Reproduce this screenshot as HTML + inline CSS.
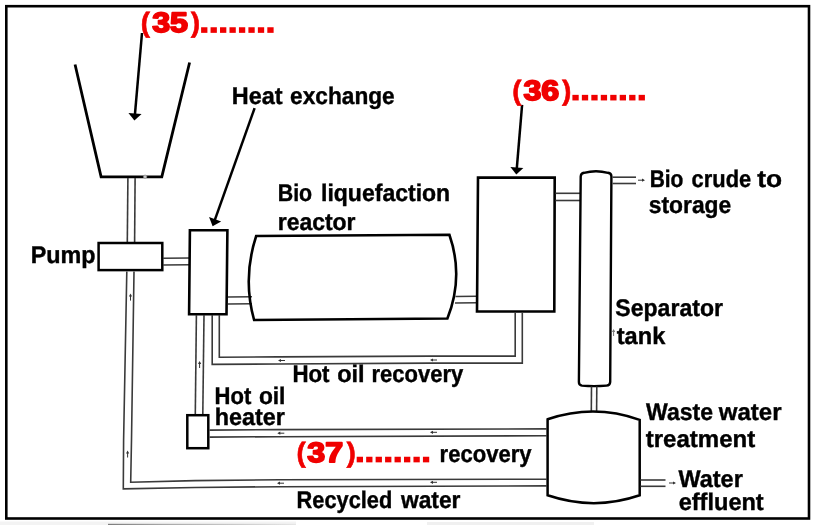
<!DOCTYPE html>
<html><head><meta charset="utf-8"><style>
html,body{margin:0;padding:0;background:#fff;width:816px;height:525px;overflow:hidden}
svg{display:block;filter:blur(0.3px)}
text{font-family:"Liberation Sans",sans-serif;font-weight:bold;text-rendering:geometricPrecision}
</style></head><body>
<svg width="816" height="525" viewBox="0 0 816 525">
<defs><linearGradient id="bg" x1="0" x2="1" y1="0" y2="0"><stop offset="0" stop-color="#7c7c7c"/><stop offset="0.3" stop-color="#a8a8a8"/><stop offset="1" stop-color="#e6e6e6"/></linearGradient></defs><rect x="0" y="521.5" width="296" height="3.5" fill="#f3f3f3"/><rect x="108" y="523.8" width="188" height="1.2" fill="url(#bg)"/><rect x="427" y="522" width="167" height="3" fill="#f0f0f0"/>
<rect x="6.3" y="6.2" width="802.7" height="512.3" fill="none" stroke="#000" stroke-width="2.6"/><polyline points="75.05,64.5 101.1,176.8 161.8,176.8 189.6,62.5" fill="none" stroke="#000" stroke-width="2.8" stroke-linejoin="miter"/><circle cx="145.1" cy="176.7" r="1.7" fill="#c8c8c8" stroke="#888" stroke-width="0.6"/><line x1="142" y1="33" x2="134.92" y2="114.52" stroke="#000" stroke-width="2.5"/><polygon points="134.4,120.5 128.43,112.96 141.58,114.10" fill="#000"/><polyline points="127.9,178 127.3,242.5" fill="none" stroke="#3a3a3a" stroke-width="1.6" stroke-linejoin="miter"/><polyline points="135.1,178 134.6,242.5" fill="none" stroke="#3a3a3a" stroke-width="1.6" stroke-linejoin="miter"/><rect x="98.6" y="243" width="63.7" height="27.1" fill="none" stroke="#000" stroke-width="2.5"/><polyline points="163,258.2 190,258" fill="none" stroke="#3a3a3a" stroke-width="1.6" stroke-linejoin="miter"/><polyline points="163,265 190,264.8" fill="none" stroke="#3a3a3a" stroke-width="1.6" stroke-linejoin="miter"/><polygon points="189.9,230.2 227.4,230.2 226.5,314.3 189.1,314.3" fill="none" stroke="#000" stroke-width="2.6"/><line x1="254.6" y1="108.2" x2="214.78" y2="220.18" stroke="#000" stroke-width="2.5"/><polygon points="212.6,226.3 209.08,217.09 221.14,221.38" fill="#000"/><polyline points="228,297 252,296.8" fill="none" stroke="#3a3a3a" stroke-width="1.6" stroke-linejoin="miter"/><polyline points="228,304 252,303.8" fill="none" stroke="#3a3a3a" stroke-width="1.6" stroke-linejoin="miter"/><path d="M256.2,236 L449.4,234.7 Q464,276.6 447.4,318.5 L254.1,320 Q242.4,278 256.2,236 Z" fill="none" stroke="#000" stroke-width="2.6"/><polyline points="455.5,296.5 477,296.3" fill="none" stroke="#3a3a3a" stroke-width="1.6" stroke-linejoin="miter"/><polyline points="455,303 477,302.8" fill="none" stroke="#3a3a3a" stroke-width="1.6" stroke-linejoin="miter"/><polygon points="478,177.6 554.7,177.6 554.3,311.5 477,311.5" fill="none" stroke="#000" stroke-width="2.6"/><line x1="522.1" y1="104.9" x2="516.8" y2="168.42" stroke="#000" stroke-width="2.5"/><polygon points="516.3,174.4 510.40,166.88 523.36,167.96" fill="#000"/><polyline points="555.5,193.3 580,193.3" fill="none" stroke="#3a3a3a" stroke-width="1.6" stroke-linejoin="miter"/><polyline points="555.5,200.5 580,200.5" fill="none" stroke="#3a3a3a" stroke-width="1.6" stroke-linejoin="miter"/><path d="M578.9,382 L580.7,176.5 Q580.9,173.2 584,172.8 Q596,169.6 608,172.8 Q611.4,173.4 611.4,176.5 L610.2,382 Q610,385.5 606.5,385.6 Q594,386.6 582,385.6 Q578.9,385.2 578.9,382 Z" fill="none" stroke="#000" stroke-width="2.4"/><polyline points="612.5,177.2 636,177.2" fill="none" stroke="#3a3a3a" stroke-width="1.6" stroke-linejoin="miter"/><polyline points="612.5,183.5 636,183.5" fill="none" stroke="#3a3a3a" stroke-width="1.6" stroke-linejoin="miter"/><path d="M638,180.2 L643.5,180.2" stroke="#333" stroke-width="1"/><polygon points="645,180.2 642,178.6 642,181.79999999999998" fill="#333"/><polyline points="591.5,386.5 591.3,411.5" fill="none" stroke="#3a3a3a" stroke-width="1.6" stroke-linejoin="miter"/><polyline points="596.8,386.5 596.6,411.5" fill="none" stroke="#3a3a3a" stroke-width="1.6" stroke-linejoin="miter"/><path d="M547.6,419.3 Q594,403.5 639.7,419.9 L639.7,495.3 Q594,511 547.6,495.3 Z" fill="none" stroke="#000" stroke-width="2.5"/><polyline points="640.5,480 665.5,480" fill="none" stroke="#3a3a3a" stroke-width="1.6" stroke-linejoin="miter"/><polyline points="640.5,486.3 665.5,486.3" fill="none" stroke="#3a3a3a" stroke-width="1.6" stroke-linejoin="miter"/><path d="M669,483 L674.5,483" stroke="#333" stroke-width="1"/><polygon points="676,483 673,481.4 673,484.6" fill="#333"/><polyline points="196.4,315 195.3,414.3" fill="none" stroke="#3a3a3a" stroke-width="1.6" stroke-linejoin="miter"/><polyline points="204,315 202.8,414.3" fill="none" stroke="#3a3a3a" stroke-width="1.6" stroke-linejoin="miter"/><path d="M199.6,368 L199.6,362.5" stroke="#333" stroke-width="1"/><polygon points="199.6,361 198.0,364 201.2,364" fill="#333"/><polyline points="219.3,315 219.3,357.3 278,356.9 430,356.1 515.2,356.1 515.2,312" fill="none" stroke="#3a3a3a" stroke-width="1.6" stroke-linejoin="miter"/><polyline points="212.2,315 212.2,364.4 278,364 430,363.1 522.3,363.1 522.3,312" fill="none" stroke="#3a3a3a" stroke-width="1.6" stroke-linejoin="miter"/><path d="M285,360.5 L279.5,360.5" stroke="#333" stroke-width="1"/><polygon points="278,360.5 281,358.9 281,362.1" fill="#333"/><path d="M437,360 L431.5,360" stroke="#333" stroke-width="1"/><polygon points="430,360 433,358.4 433,361.6" fill="#333"/><rect x="187.3" y="415.2" width="21" height="33" fill="none" stroke="#000" stroke-width="2.5"/><polyline points="209.5,430.1 277,429.6 547,428.9" fill="none" stroke="#3a3a3a" stroke-width="1.6" stroke-linejoin="miter"/><polyline points="209.5,437.1 277,436.7 547,435.7" fill="none" stroke="#3a3a3a" stroke-width="1.6" stroke-linejoin="miter"/><path d="M284.3,433.2 L278.8,433.2" stroke="#333" stroke-width="1"/><polygon points="277.3,433.2 280.3,431.59999999999997 280.3,434.8" fill="#333"/><path d="M437,432.3 L431.5,432.3" stroke="#333" stroke-width="1"/><polygon points="430,432.3 433,430.7 433,433.90000000000003" fill="#333"/><polyline points="134,271.5 131.5,440 130.7,482.3 195,480.6 280,479.8 547,479.2" fill="none" stroke="#3a3a3a" stroke-width="1.6" stroke-linejoin="miter"/><polyline points="126.8,271.5 123.6,440 123.3,488.9 195,487.5 280,486.7 547,485.9" fill="none" stroke="#3a3a3a" stroke-width="1.6" stroke-linejoin="miter"/><path d="M613.6,336 L613.6,330.5" stroke="#777" stroke-width="1"/><polygon points="613.6,329 612.0,332 615.2,332" fill="#777"/><path d="M130.5,300.6 L130.5,295.1" stroke="#333" stroke-width="1"/><polygon points="130.5,293.6 128.9,296.6 132.1,296.6" fill="#333"/><path d="M127.6,457.5 L127.6,452.0" stroke="#333" stroke-width="1"/><polygon points="127.6,450.5 126.0,453.5 129.2,453.5" fill="#333"/><path d="M284,483.2 L278.5,483.2" stroke="#333" stroke-width="1"/><polygon points="277,483.2 280,481.59999999999997 280,484.8" fill="#333"/><path d="M437,482.3 L431.5,482.3" stroke="#333" stroke-width="1"/><polygon points="430,482.3 433,480.7 433,483.90000000000003" fill="#333"/>
<text x="231.71" y="103.8" font-size="24" fill="#000" stroke="#000" stroke-width="0.4" textLength="50.8" lengthAdjust="spacingAndGlyphs" >Heat</text><text x="290.07" y="103.8" font-size="24" fill="#000" stroke="#000" stroke-width="0.4" textLength="104.67" lengthAdjust="spacingAndGlyphs" >exchange</text><text x="277.71" y="200.6" font-size="24" fill="#000" stroke="#000" stroke-width="0.4" textLength="34.43" lengthAdjust="spacingAndGlyphs" >Bio</text><text x="321.04" y="200.6" font-size="24" fill="#000" stroke="#000" stroke-width="0.4" textLength="129.1" lengthAdjust="spacingAndGlyphs" >liquefaction</text><text x="277.76" y="230.4" font-size="24" fill="#000" stroke="#000" stroke-width="0.4" textLength="77.8" lengthAdjust="spacingAndGlyphs" >reactor</text><text x="30.72" y="262.8" font-size="24" fill="#000" stroke="#000" stroke-width="0.4" textLength="64.89" lengthAdjust="spacingAndGlyphs" >Pump</text><text x="292.42" y="382.3" font-size="24" fill="#000" stroke="#000" stroke-width="0.4" textLength="37.12" lengthAdjust="spacingAndGlyphs" >Hot</text><text x="337.16" y="382.3" font-size="24" fill="#000" stroke="#000" stroke-width="0.4" textLength="27.43" lengthAdjust="spacingAndGlyphs" >oil</text><text x="371.52" y="382.3" font-size="24" fill="#000" stroke="#000" stroke-width="0.4" textLength="91.75" lengthAdjust="spacingAndGlyphs" >recovery</text><text x="214.61" y="404.3" font-size="24" fill="#000" stroke="#000" stroke-width="0.4" textLength="36.7" lengthAdjust="spacingAndGlyphs" >Hot</text><text x="258.88" y="404.3" font-size="24" fill="#000" stroke="#000" stroke-width="0.4" textLength="26.57" lengthAdjust="spacingAndGlyphs" >oil</text><text x="214.83" y="425.1" font-size="24" fill="#000" stroke="#000" stroke-width="0.4" textLength="70.13" lengthAdjust="spacingAndGlyphs" >heater</text><text x="615.37" y="316" font-size="24" fill="#000" stroke="#000" stroke-width="0.4" textLength="107.59" lengthAdjust="spacingAndGlyphs" >Separator</text><text x="616.75" y="343.7" font-size="24" fill="#000" stroke="#000" stroke-width="0.4" textLength="48.51" lengthAdjust="spacingAndGlyphs" >tank</text><text x="649.64" y="186.5" font-size="24" fill="#000" stroke="#000" stroke-width="0.4" textLength="33.8" lengthAdjust="spacingAndGlyphs" >Bio</text><text x="691.61" y="186.5" font-size="24" fill="#000" stroke="#000" stroke-width="0.4" textLength="59.6" lengthAdjust="spacingAndGlyphs" >crude</text><text x="757.33" y="186.5" font-size="24" fill="#000" stroke="#000" stroke-width="0.4" textLength="24.85" lengthAdjust="spacingAndGlyphs" >to</text><text x="648.81" y="213" font-size="24" fill="#000" stroke="#000" stroke-width="0.4" textLength="82.43" lengthAdjust="spacingAndGlyphs" >storage</text><text x="646.05" y="419.6" font-size="24" fill="#000" stroke="#000" stroke-width="0.4" textLength="66.97" lengthAdjust="spacingAndGlyphs" >Waste</text><text x="718.84" y="419.6" font-size="24" fill="#000" stroke="#000" stroke-width="0.4" textLength="62.68" lengthAdjust="spacingAndGlyphs" >water</text><text x="645.69" y="447.4" font-size="24" fill="#000" stroke="#000" stroke-width="0.4" textLength="109.5" lengthAdjust="spacingAndGlyphs" >treatment</text><text x="678.45" y="486.5" font-size="24" fill="#000" stroke="#000" stroke-width="0.4" textLength="64.35" lengthAdjust="spacingAndGlyphs" >Water</text><text x="678.69" y="509.5" font-size="24" fill="#000" stroke="#000" stroke-width="0.4" textLength="85.03" lengthAdjust="spacingAndGlyphs" >effluent</text><text x="439.61" y="462.1" font-size="24" fill="#000" stroke="#000" stroke-width="0.4" textLength="92.01" lengthAdjust="spacingAndGlyphs" >recovery</text><text x="296.56" y="508.2" font-size="24" fill="#000" stroke="#000" stroke-width="0.4" textLength="95.76" lengthAdjust="spacingAndGlyphs" >Recycled</text><text x="400.92" y="508.2" font-size="24" fill="#000" stroke="#000" stroke-width="0.4" textLength="59.58" lengthAdjust="spacingAndGlyphs" >water</text><text x="140.87" y="31.87" font-size="28" fill="#f00000" stroke="#f00000" stroke-width="0.6">(</text><text x="152.17" y="32.2" font-size="28" fill="#f00000" stroke="#f00000" stroke-width="1.8" stroke-linejoin="round" textLength="35.8" lengthAdjust="spacingAndGlyphs">35</text><text x="190.85" y="31.87" font-size="28" fill="#f00000" stroke="#f00000" stroke-width="0.6">)</text><rect x="201.10" y="27.25" width="6.3" height="5.6" fill="#f00000"/><rect x="210.56" y="27.25" width="6.3" height="5.6" fill="#f00000"/><rect x="220.02" y="27.25" width="6.3" height="5.6" fill="#f00000"/><rect x="229.48" y="27.25" width="6.3" height="5.6" fill="#f00000"/><rect x="238.94" y="27.25" width="6.3" height="5.6" fill="#f00000"/><rect x="248.40" y="27.25" width="6.3" height="5.6" fill="#f00000"/><rect x="257.86" y="27.25" width="6.3" height="5.6" fill="#f00000"/><rect x="267.32" y="27.25" width="6.3" height="5.6" fill="#f00000"/><text x="512.17" y="99.7" font-size="28" fill="#f00000" stroke="#f00000" stroke-width="0.6">(</text><text x="523.47" y="100.0" font-size="28" fill="#f00000" stroke="#f00000" stroke-width="1.8" stroke-linejoin="round" textLength="35.8" lengthAdjust="spacingAndGlyphs">36</text><text x="561.95" y="99.7" font-size="28" fill="#f00000" stroke="#f00000" stroke-width="0.6">)</text><rect x="572.40" y="94.85" width="6.3" height="5.6" fill="#f00000"/><rect x="581.86" y="94.85" width="6.3" height="5.6" fill="#f00000"/><rect x="591.32" y="94.85" width="6.3" height="5.6" fill="#f00000"/><rect x="600.78" y="94.85" width="6.3" height="5.6" fill="#f00000"/><rect x="610.24" y="94.85" width="6.3" height="5.6" fill="#f00000"/><rect x="619.70" y="94.85" width="6.3" height="5.6" fill="#f00000"/><rect x="629.16" y="94.85" width="6.3" height="5.6" fill="#f00000"/><rect x="638.62" y="94.85" width="6.3" height="5.6" fill="#f00000"/><text x="296.42" y="461.8" font-size="28" fill="#f00000" stroke="#f00000" stroke-width="0.6">(</text><text x="307.27" y="461.9" font-size="28" fill="#f00000" stroke="#f00000" stroke-width="1.8" stroke-linejoin="round" textLength="35.8" lengthAdjust="spacingAndGlyphs">37</text><text x="346.45" y="461.8" font-size="28" fill="#f00000" stroke="#f00000" stroke-width="0.6">)</text><rect x="356.70" y="456.75" width="6.3" height="5.6" fill="#f00000"/><rect x="366.16" y="456.75" width="6.3" height="5.6" fill="#f00000"/><rect x="375.62" y="456.75" width="6.3" height="5.6" fill="#f00000"/><rect x="385.08" y="456.75" width="6.3" height="5.6" fill="#f00000"/><rect x="394.54" y="456.75" width="6.3" height="5.6" fill="#f00000"/><rect x="404.00" y="456.75" width="6.3" height="5.6" fill="#f00000"/><rect x="413.46" y="456.75" width="6.3" height="5.6" fill="#f00000"/><rect x="422.92" y="456.75" width="6.3" height="5.6" fill="#f00000"/>
</svg>
</body></html>
